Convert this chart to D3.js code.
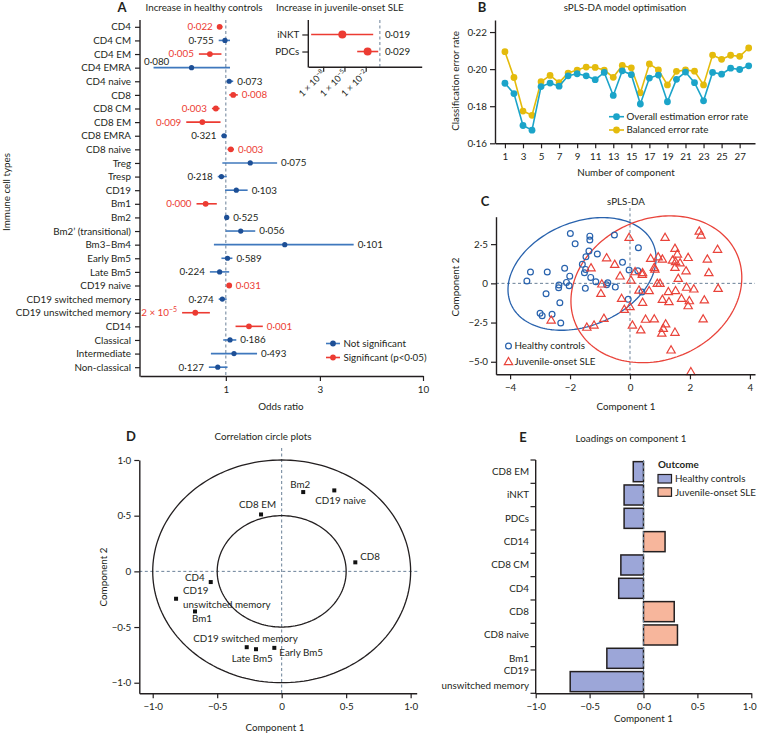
<!DOCTYPE html>
<html>
<head>
<meta charset="utf-8">
<script src="https://cdn.jsdelivr.net/npm/d3@7"></script>
<style>
  body { margin: 0; background: #fff; }
  svg text { fill: #231f20; }
</style>
</head>
<body>
<div id="chart"></div>
<script>
const width = 757;
const height = 734;

// ---------- Panel A: odds ratios per immune cell type
const cellTypes = ['CD4', 'CD4 CM', 'CD4 EM', 'CD4 EMRA', 'CD4 naive', 'CD8', 'CD8 CM', 'CD8 EM',
  'CD8 EMRA', 'CD8 naive', 'Treg', 'Tresp', 'CD19', 'Bm1', 'Bm2', 'Bm2\u2019 (transitional)',
  'Bm3\u2013Bm4', 'Early Bm5', 'Late Bm5', 'CD19 naive', 'CD19 switched memory',
  'CD19 unswitched memory', 'CD14', 'Classical', 'Intermediate', 'Non-classical'];
const oddsRatio = [0.93, 0.99, 0.83, 0.67, 1.04, 1.09, 0.89, 0.76, 0.98, 1.06, 1.33, 0.95, 1.13,
  0.79, 1.01, 1.19, 1.99, 1.02, 0.93, 1.04, 0.96, 0.70, 1.31, 1.05, 1.10, 0.91];
const ciLow = [0.91, 0.92, 0.73, 0.43, 1.01, 1.04, 0.85, 0.63, 0.95, 1.02, 0.96, 0.91, 0.99,
  0.71, 0.99, 1.00, 0.87, 0.95, 0.83, 1.01, 0.92, 0.60, 1.12, 0.97, 0.84, 0.82];
const ciHigh = [0.96, 1.05, 0.95, 1.05, 1.09, 1.15, 0.93, 0.94, 1.01, 1.10, 1.82, 1.01, 1.29,
  0.90, 1.04, 1.41, 4.45, 1.08, 1.04, 1.07, 1.01, 0.83, 1.54, 1.13, 1.44, 1.02];
const pValues = [0.022, 0.755, 0.005, 0.080, 0.073, 0.008, 0.003, 0.009, 0.321, 0.003, 0.075,
  0.218, 0.103, 0.0004, 0.525, 0.056, 0.101, 0.589, 0.224, 0.031, 0.274, 0.00002, 0.001, 0.186,
  0.493, 0.127];
const orTicks = [1, 3, 10];

// inset: increase in juvenile-onset SLE
const insetTypes = ['iNKT', 'PDCs'];
const insetOR = [5e-6, 0.0186];
const insetLow = [2e-10, 6.3e-4];
const insetHigh = [0.114, 0.58];
const insetP = [0.019, 0.029];
const insetTicks = [1e-8, 1e-5, 1e-2];

// ---------- Panel B: sPLS-DA model optimisation
const components = [1, 2, 3, 4, 5, 6, 7, 8, 9, 10, 11, 12, 13, 14, 15, 16, 17, 18, 19, 20, 21, 22,
  23, 24, 25, 26, 27, 28];
const overallError = [0.1924, 0.1868, 0.1696, 0.1671, 0.1906, 0.1925, 0.1908, 0.1964, 0.1975,
  0.1964, 0.1943, 0.1982, 0.1858, 0.1991, 0.1970, 0.1812, 0.1952, 0.1968, 0.1824, 0.1945, 0.1984,
  0.1927, 0.1829, 0.1982, 0.1973, 0.2005, 0.1998, 0.2018];
const balancedError = [0.2094, 0.1955, 0.1774, 0.1751, 0.1932, 0.1966, 0.1927, 0.1979, 0.1995,
  0.2011, 0.2009, 0.1995, 0.1956, 0.2020, 0.2007, 0.1872, 0.2028, 0.1996, 0.1915, 0.1988, 0.1996,
  0.1989, 0.1915, 0.2076, 0.2053, 0.2075, 0.2069, 0.2114];
const componentTicks = [1, 3, 5, 7, 9, 11, 13, 15, 17, 19, 21, 23, 25, 27];
const errorTicks = [0.16, 0.18, 0.20, 0.22];

// ---------- Panel C: sPLS-DA sample plot
const hcComp1 = [-1.99, -1.83, -1.34, -1.34, -0.52, -1.37, -1.09, -1.59, -1.47, -1.48, -1.52, -1.31,
  -1.14, -0.74, -0.78, -0.49, -1.49, -0.25, -3.32, -3.44, -2.76, -2.18, -2.01, -2.12, -2.03, -2.37,
  -2.38, -2.80, -2.34, -3.00, -2.93, -2.60, -2.31, 0.28, -0.03, 0.26, -0.06, 0.40];
const hcComp2 = [3.18, 2.52, 3.01, 2.76, 3.08, 2.06, 1.87, 1.21, 1.69, 0.89, 0.68, 0.38, 0.10, 0.04,
  -0.09, -0.24, -0.32, 1.34, 0.72, 0.15, 0.72, 0.96, 0.46, 0.06, -0.15, -0.11, -0.28, -0.66, -1.24,
  -1.91, -2.06, -1.97, -2.53, 2.27, 0.85, 0.80, -1.02, -0.55];
const sleComp1 = [-0.03, 1.17, 2.31, 2.37, 2.92, 1.50, 1.58, 0.69, 0.94, 1.08, 1.42, 1.52, 1.67, 1.94,
  2.58, 1.50, 0.81, 0.83, 1.87, 2.63, 0.17, 0.42, 0.41, 1.61, 0.03, 0.91, 1.00, 1.89, 2.13, 2.94,
  0.30, 0.64, 1.28, 1.52, -0.28, 1.08, 1.30, 1.72, 1.98, 1.94, 2.48, 0.42, 0.00, 0.52, 0.81, 2.44,
  0.08, 0.36, 1.19, 1.11, 1.06, 1.50, 1.37, 2.03, -1.30, -0.78, -0.51, -0.33, -0.94, -0.97, -0.87,
  -1.20, -1.44, -2.63, -0.19];
const sleComp2 = [2.93, 2.93, 3.33, 3.08, 2.17, 2.23, 1.87, 1.59, 1.69, 1.55, 1.48, 1.38, 1.31, 1.65,
  1.55, 1.02, 1.02, 0.91, 0.80, 0.68, 0.74, 0.68, 0.57, 0.32, 0.21, 0.00, 0.00, -0.25, -0.36, -0.32,
  -0.43, -0.47, -0.53, -0.47, -0.96, -1.02, -1.17, -0.96, -1.11, -1.43, -1.06, -1.21, -1.49, -2.29,
  -2.27, -2.27, -2.66, -2.97, -2.59, -2.87, -3.18, -3.12, -4.25, -5.63, 0.99, 1.63, 1.21, 0.47,
  -0.04, -0.64, -2.23, -2.66, -2.80, -2.34, -1.66];
// confidence ellipses: centre, horizontal semi-extent and the conjugate vertical parts
const hcEllipse = [-1.6, 0.6, 2.47, 1.0, 3.45];
const sleEllipse = [0.88, -0.38, 2.85, 0.75, 4.62];
const comp1Ticks = [-4, -2, 0, 2, 4];
const comp2Ticks = [2.5, 0, -2.5, -5];

// ---------- Panel D: correlation circle
const corrVars = ['Bm2', 'CD19 naive', 'CD8 EM', 'CD8', 'CD4', 'CD19 unswitched memory', 'Bm1',
  'CD19 switched memory', 'Late Bm5', 'Early Bm5'];
const corrComp1 = [0.167, 0.408, -0.160, 0.571, -0.550, -0.819, -0.672, -0.199, -0.271, -0.057];
const corrComp2 = [0.712, 0.727, 0.511, 0.081, -0.096, -0.246, -0.360, -0.699, -0.681, -0.687];
const corrRadii = [1, 0.5];
const corrTicks = [-1, -0.5, 0, 0.5, 1];

// ---------- Panel E: loadings on component 1
const loadingVars = ['CD8 EM', 'iNKT', 'PDCs', 'CD14', 'CD8 CM', 'CD4', 'CD8', 'CD8 naive', 'Bm1',
  'CD19 unswitched memory'];
const loadings = [-0.095, -0.18, -0.18, 0.20, -0.21, -0.23, 0.285, 0.315, -0.34, -0.68];

// ---------- shared styles
const ink = '#231f20';
const red = '#ec3b32';
const blueDot = '#1d4f96';
const blueLine = '#3f78bd';
const dashColor = '#6a8098';
const font = 'Lato, "Open Sans", sans-serif';
const dot = s => String(s).replace(/\./g, '\u00b7').replace(/-/g, '\u2212');

const svg = d3.select('#chart').append('svg')
  .attr('width', width)
  .attr('height', height)
  .style('font-family', font)
  .style('font-size', '9.8px');

function styleAxis(g) {
  g.attr('font-family', null).attr('font-size', null);
  g.select('.domain').attr('stroke', ink).attr('stroke-width', 1.4);
  g.selectAll('.tick line').attr('stroke', ink).attr('stroke-width', 1.2);
  g.selectAll('.tick text').attr('fill', ink);
}

function label(x, y, str, anchor, extra) {
  const t = svg.append('text').attr('x', x).attr('y', y)
    .attr('text-anchor', anchor || 'middle').text(str);
  if (extra === 'letter') t.style('font-size', '13px').style('font-weight', 'bold');
  return t;
}

function vLabel(x, y, str) {
  svg.append('text').attr('transform', `translate(${x},${y}) rotate(-90)`)
    .attr('text-anchor', 'middle').text(str);
}

function vline(g, x, y1, y2) {
  g.append('line').attr('x1', x).attr('x2', x).attr('y1', y1).attr('y2', y2)
    .attr('stroke', dashColor).attr('stroke-width', 1).attr('stroke-dasharray', '3,2.5');
}
function hline(g, y, x1, x2) {
  g.append('line').attr('x1', x1).attr('x2', x2).attr('y1', y).attr('y2', y)
    .attr('stroke', dashColor).attr('stroke-width', 1).attr('stroke-dasharray', '3,2.5');
}

function writeP(sel, p) {
  if (p < 0.0001) {
    const exp = Math.floor(Math.log10(p));
    const mant = Math.round(p / Math.pow(10, exp));
    sel.text(mant + ' \u00d7 10');
    sel.append('tspan').attr('dy', -4).style('font-size', '7px').text('\u2212' + Math.abs(exp));
  } else {
    sel.text(dot(p.toFixed(3)));
  }
}

// ======================= Panel A
const xA = d3.scaleLog().domain([0.367, 10]).range([140, 423]);
const yA = d3.scalePoint().domain(cellTypes).range([20, 374]).padding(0.5);
const gA = svg.append('g');
const rowsA = cellTypes.map((name, i) => ({
  name, or: oddsRatio[i], lo: ciLow[i], hi: ciHigh[i], p: pValues[i]
}));

vline(gA, xA(1), 20, 376);

gA.selectAll('.ci').data(rowsA).join('line')
  .attr('x1', d => xA(d.lo)).attr('x2', d => xA(d.hi))
  .attr('y1', d => yA(d.name)).attr('y2', d => yA(d.name))
  .attr('stroke', d => d.p < 0.05 ? red : blueLine)
  .attr('stroke-width', 1.6);

gA.selectAll('.pt').data(rowsA).join('circle')
  .attr('cx', d => xA(d.or)).attr('cy', d => yA(d.name))
  .attr('r', d => d.p < 0.05 ? 2.9 : 2.6)
  .attr('fill', d => d.p < 0.05 ? red : blueDot);

gA.selectAll('.plab').data(rowsA).join('text')
  .attr('y', d => yA(d.name) + 3.4)
  .style('fill', d => d.p < 0.05 ? red : ink)
  .each(function (d) {
    const t = d3.select(this);
    writeP(t, d.p);
    if (d.or < 1) {
      t.attr('x', xA(d.lo) - 5).attr('text-anchor', 'end');
      const w = this.getComputedTextLength();
      if (xA(d.lo) - 5 - w < 136) {
        // no room on the left: put it above the interval
        t.attr('x', 144).attr('text-anchor', 'start').attr('y', yA(d.name) - 2.5);
      }
    } else {
      t.attr('x', xA(d.hi) + 4).attr('text-anchor', 'start');
    }
  });

const axA = gA.append('g').attr('transform', 'translate(0,376)')
  .call(d3.axisBottom(xA).tickValues(orTicks).tickFormat(d => d).tickSize(5).tickSizeOuter(0));
styleAxis(axA);
axA.selectAll('.tick text').attr('dy', '0.9em');

const ayA = gA.append('g').attr('transform', 'translate(140,0)')
  .call(d3.axisLeft(yA).tickSize(5).tickPadding(4));
styleAxis(ayA);
ayA.select('.domain').remove();
gA.append('line').attr('x1', 140).attr('x2', 140).attr('y1', 20).attr('y2', 376.7)
  .attr('stroke', ink).attr('stroke-width', 1.4);

label(122, 12, 'A', 'middle', 'letter');
label(204, 11, 'Increase in healthy controls');
label(281, 410, 'Odds ratio');
vLabel(10, 192, 'Immune cell types');

// legend A
const legA = [['Not significant', blueDot, blueLine], ['Significant (p<0\u00b705)', red, red]];
legA.forEach((l, i) => {
  const y = 343.5 + i * 14;
  gA.append('line').attr('x1', 326).attr('x2', 340).attr('y1', y).attr('y2', y)
    .attr('stroke', l[2]).attr('stroke-width', 1.6);
  gA.append('circle').attr('cx', 333).attr('cy', y).attr('r', 2.9).attr('fill', l[1]);
  gA.append('text').attr('x', 343.5).attr('y', y + 3.4).text(l[0]);
});

// inset
const xI = d3.scaleLog().domain([Math.pow(10, -10.1), Math.pow(10, 5.9)]).range([308.3, 421.7]);
const yI = d3.scalePoint().domain(insetTypes).range([20, 66]).padding(0.85);
const gI = svg.append('g');
const rowsI = insetTypes.map((name, i) => ({
  name, or: insetOR[i], lo: insetLow[i], hi: insetHigh[i], p: insetP[i]
}));
vline(gI, xI(1), 20, 66.7);
gI.selectAll('.ci').data(rowsI).join('line')
  .attr('x1', d => xI(d.lo)).attr('x2', d => xI(d.hi))
  .attr('y1', d => yI(d.name)).attr('y2', d => yI(d.name))
  .attr('stroke', red).attr('stroke-width', 1.6);
gI.selectAll('.pt').data(rowsI).join('circle')
  .attr('cx', d => xI(d.or)).attr('cy', d => yI(d.name)).attr('r', 4).attr('fill', red);
gI.selectAll('.plab').data(rowsI).join('text')
  .attr('x', d => Math.max(xI(d.hi), xI(1)) + 5)
  .attr('y', d => yI(d.name) + 3.4)
  .text(d => dot(d.p.toFixed(3)));

const axI = gI.append('g').attr('transform', 'translate(0,66.7)')
  .call(d3.axisBottom(xI).tickValues(insetTicks).tickFormat('').tickSize(5).tickSizeOuter(0));
styleAxis(axI);
gI.selectAll('.itick').data(insetTicks).join('text')
  .attr('transform', d => `translate(${xI(d) + 2.5},${74}) rotate(-45)`)
  .attr('text-anchor', 'end')
  .style('font-size', '9px')
  .each(function (d) {
    const t = d3.select(this).text('1 \u00d7 10');
    t.append('tspan').attr('dy', -3.5).style('font-size', '6.3px')
      .text('\u2212' + Math.round(-Math.log10(d)));
  });
const ayI = gI.append('g').attr('transform', 'translate(308.3,0)')
  .call(d3.axisLeft(yI).tickSize(6).tickPadding(3));
styleAxis(ayI);
ayI.select('.domain').remove();
gI.append('line').attr('x1', 308.3).attr('x2', 308.3).attr('y1', 20).attr('y2', 67.4)
  .attr('stroke', ink).attr('stroke-width', 1.4);
label(276, 11, 'Increase in juvenile-onset SLE', 'start');

// ======================= Panel B
const xB = d3.scaleLinear().domain([-0.1, 28.7]).range([495, 755]);
const yB = d3.scaleLinear().domain([0.16, 0.2265]).range([143.3, 20]);
const gB = svg.append('g');
const teal = '#1ba4c9';
const gold = '#e4bb0c';
const seriesB = [[overallError, teal], [balancedError, gold]];
seriesB.slice().reverse().forEach(([vals, col]) => {
  gB.append('path')
    .datum(components.map((c, i) => [c, vals[i]]))
    .attr('fill', 'none').attr('stroke', col).attr('stroke-width', 1.6)
    .attr('d', d3.line().x(d => xB(d[0])).y(d => yB(d[1])));
  gB.selectAll(null).data(components.map((c, i) => [c, vals[i]])).join('circle')
    .attr('cx', d => xB(d[0])).attr('cy', d => yB(d[1])).attr('r', 3.4).attr('fill', col);
});
const axB = gB.append('g').attr('transform', 'translate(0,143.3)')
  .call(d3.axisBottom(xB).tickValues(componentTicks).tickSize(5).tickSizeOuter(0));
styleAxis(axB);
axB.selectAll('.tick text').attr('dy', '0.9em');
const ayB = gB.append('g').attr('transform', 'translate(495,0)')
  .call(d3.axisLeft(yB).tickValues(errorTicks).tickFormat(d => dot(d.toFixed(2))).tickSize(5).tickSizeOuter(0));
styleAxis(ayB);

const legB = [['Overall estimation error rate', teal], ['Balanced error rate', gold]];
legB.forEach((l, i) => {
  const y = 116.7 + i * 13.3;
  gB.append('line').attr('x1', 609).attr('x2', 624).attr('y1', y).attr('y2', y)
    .attr('stroke', l[1]).attr('stroke-width', 1.6);
  gB.append('circle').attr('cx', 616.5).attr('cy', y).attr('r', 3.4).attr('fill', l[1]);
  gB.append('text').attr('x', 626.5).attr('y', y + 3.4).text(l[0]);
});
label(482, 12, 'B', 'middle', 'letter');
label(625, 11, 'sPLS-DA model optimisation');
label(626, 176, 'Number of component');
vLabel(459, 81, 'Classification error rate');

// ======================= Panel C
const xC = d3.scaleLinear().domain([-4.47, 4.17]).range([496, 755]);
const yC = d3.scaleLinear().domain([-5.8, 4.25]).range([374.3, 216.7]);
const gC = svg.append('g');
const hcBlue = '#2862ad';
const sleRed = '#e9433a';

vline(gC, xC(0), 208, 374);
hline(gC, yC(0), 496, 755);

function ellipsePath(e) {
  const [cx, cy, a, b, c] = e;
  const pts = d3.range(0, 2 * Math.PI + 0.01, Math.PI / 90).map(t =>
    [xC(cx + a * Math.cos(t)), yC(cy + b * Math.cos(t) + c * Math.sin(t))]);
  return d3.line()(pts);
}
gC.append('path').attr('d', ellipsePath(hcEllipse))
  .attr('fill', 'none').attr('stroke', hcBlue).attr('stroke-width', 1.3);
gC.append('path').attr('d', ellipsePath(sleEllipse))
  .attr('fill', 'none').attr('stroke', sleRed).attr('stroke-width', 1.3);

gC.selectAll('.hc').data(hcComp1.map((x, i) => [x, hcComp2[i]])).join('circle')
  .attr('cx', d => xC(d[0])).attr('cy', d => yC(d[1])).attr('r', 2.9)
  .attr('fill', 'none').attr('stroke', hcBlue).attr('stroke-width', 1.2);
const tri = d3.symbol(d3.symbolTriangle).size(30);
gC.selectAll('.sle').data(sleComp1.map((x, i) => [x, sleComp2[i]])).join('path')
  .attr('d', tri)
  .attr('transform', d => `translate(${xC(d[0])},${yC(d[1]) + 0.6})`)
  .attr('fill', 'none').attr('stroke', sleRed).attr('stroke-width', 1.2);

const axC = gC.append('g').attr('transform', 'translate(0,374.3)')
  .call(d3.axisBottom(xC).tickValues(comp1Ticks).tickFormat(d => dot(d)).tickSize(5).tickSizeOuter(0));
styleAxis(axC);
axC.selectAll('.tick text').attr('dy', '0.9em');
const ayC = gC.append('g').attr('transform', 'translate(496,0)')
  .call(d3.axisLeft(yC).tickValues(comp2Ticks).tickFormat(d => d === 0 ? '0' : dot(d.toFixed(1))).tickSize(5).tickSizeOuter(0));
styleAxis(ayC);

gC.append('circle').attr('cx', 508.5).attr('cy', 346).attr('r', 2.9)
  .attr('fill', 'none').attr('stroke', hcBlue).attr('stroke-width', 1.2);
gC.append('text').attr('x', 514.5).attr('y', 349.4).text('Healthy controls');
gC.append('path').attr('d', tri).attr('transform', 'translate(508.5,362.3)')
  .attr('fill', 'none').attr('stroke', sleRed).attr('stroke-width', 1.2);
gC.append('text').attr('x', 514.5).attr('y', 365.1).text('Juvenile-onset SLE');

label(485, 206, 'C', 'middle', 'letter');
label(626, 205, 'sPLS-DA');
label(626, 409.5, 'Component 1');
vLabel(459, 287, 'Component 2');

// ======================= Panel D
const xD = d3.scaleLinear().domain([-1.104, 1.047]).range([139.3, 416.7]);
const yD = d3.scaleLinear().domain([-1.095, 1.0]).range([693.3, 460]);
const gD = svg.append('g');

vline(gD, xD(0), 448, 693.3);
hline(gD, yD(0), 139.3, 418);

corrRadii.forEach(r => {
  const pts = d3.range(0, 2 * Math.PI + 0.01, Math.PI / 90)
    .map(t => [xD(r * Math.cos(t)), yD(r * Math.sin(t))]);
  gD.append('path').attr('d', d3.line()(pts))
    .attr('fill', 'none').attr('stroke', ink).attr('stroke-width', 1.3);
});

const corrRows = corrVars.map((name, i) => ({ name, x: corrComp1[i], y: corrComp2[i] }));
gD.selectAll('.sq').data(corrRows).join('rect')
  .attr('x', d => xD(d.x) - 2).attr('y', d => yD(d.y) - 2)
  .attr('width', 4).attr('height', 4).attr('fill', '#111');

// label placement next to each square: [dx, dy, anchor]
const corrLabelPos = {
  'Bm2': [-13, -4, 'start'],
  'CD19 naive': [-19, 13.5, 'start'],
  'CD8 EM': [-3.5, -6, 'middle'],
  'CD8': [5, -2, 'start'],
  'CD4': [-6, -1, 'end'],
  'CD19 unswitched memory': [7, -4.5, 'start'],
  'Bm1': [-3, 11, 'start'],
  'CD19 switched memory': [-10.5, -7, 'middle'],
  'Late Bm5': [-15, 14.7, 'start'],
  'Early Bm5': [5, 8, 'start']
};
corrRows.forEach(d => {
  const [dx, dy, anchor] = corrLabelPos[d.name];
  const t = gD.append('text').attr('x', xD(d.x) + dx).attr('y', yD(d.y) + dy)
    .attr('text-anchor', anchor);
  if (d.name === 'CD19 unswitched memory') {
    t.append('tspan').text('CD19');
    t.append('tspan').attr('x', xD(d.x) + dx).attr('dy', 14).text('unswitched memory');
  } else {
    t.text(d.name);
  }
});

const fmtCorr = d => d === 0 ? '0' : dot(d.toFixed(1));
const axD = gD.append('g').attr('transform', 'translate(0,693.3)')
  .call(d3.axisBottom(xD).tickValues(corrTicks).tickFormat(fmtCorr).tickSize(5).tickSizeOuter(0));
styleAxis(axD);
axD.selectAll('.tick text').attr('dy', '0.9em');
const ayD = gD.append('g').attr('transform', 'translate(139.3,0)')
  .call(d3.axisLeft(yD).tickValues(corrTicks).tickFormat(fmtCorr).tickSize(5).tickSizeOuter(0));
styleAxis(ayD);

label(131, 441, 'D', 'middle', 'letter');
label(263, 440, 'Correlation circle plots');
label(275, 731, 'Component 1');
vLabel(107, 577, 'Component 2');

// ======================= Panel E
const xE = d3.scaleLinear().domain([-1, 1]).range([535.7, 751.3]);
const yE = d3.scaleBand().domain(loadingVars).range([460, 693.3])
  .paddingInner(0.14).paddingOuter(0.07);
const gE = svg.append('g');
const hcFill = '#9ca6d8';
const sleFill = '#f7b69c';

gE.selectAll('.bar').data(loadingVars.map((name, i) => ({ name, v: loadings[i] }))).join('rect')
  .attr('x', d => xE(Math.min(0, d.v)))
  .attr('width', d => Math.abs(xE(d.v) - xE(0)))
  .attr('y', d => yE(d.name))
  .attr('height', yE.bandwidth())
  .attr('fill', d => d.v < 0 ? hcFill : sleFill)
  .attr('stroke', ink).attr('stroke-width', 1.5);

vline(gE, xE(0), 460, 693.3);

const axE = gE.append('g').attr('transform', 'translate(0,693.3)')
  .call(d3.axisBottom(xE).tickValues(corrTicks).tickFormat(d => dot(d.toFixed(1))).tickSize(5).tickSizeOuter(0));
styleAxis(axE);
axE.selectAll('.tick text').attr('dy', '0.9em');
// keep the last label inside the page
axE.selectAll('.tick text').filter(d => d === 1).attr('text-anchor', 'end').attr('dx', '0.5em');

// y axis with ticks on band boundaries
gE.append('line').attr('x1', 535.7).attr('x2', 535.7).attr('y1', 460).attr('y2', 694)
  .attr('stroke', ink).attr('stroke-width', 1.4);
gE.selectAll('.btick').data(d3.range(loadingVars.length + 1)).join('line')
  .attr('x1', 530.5).attr('x2', 535.7)
  .attr('y1', i => 460 + i * yE.step()).attr('y2', i => 460 + i * yE.step())
  .attr('stroke', ink).attr('stroke-width', 1.2);
gE.selectAll('.ylab').data(loadingVars).join('text')
  .attr('text-anchor', 'end')
  .each(function (d) {
    const t = d3.select(this);
    const yc = yE(d) + yE.bandwidth() / 2;
    if (d.length > 15) {
      const cut = d.indexOf(' ');
      t.append('tspan').attr('x', 529).attr('y', yc - 8).text(d.slice(0, cut));
      t.append('tspan').attr('x', 529).attr('y', yc + 7.5).text(d.slice(cut + 1));
    } else {
      t.attr('x', 529).attr('y', yc + 3.4).text(d);
    }
  });

gE.append('text').attr('x', 658).attr('y', 467.5).style('font-weight', 'bold').text('Outcome');
[['Healthy controls', hcFill], ['Juvenile-onset SLE', sleFill]].forEach((l, i) => {
  const y = 474.5 + i * 13.3;
  gE.append('rect').attr('x', 658).attr('y', y).attr('width', 13.5).attr('height', 8.5)
    .attr('fill', l[1]).attr('stroke', ink).attr('stroke-width', 1.2);
  gE.append('text').attr('x', 675).attr('y', y + 7.8).text(l[0]);
});

label(523, 442, 'E', 'middle', 'letter');
label(631, 441.5, 'Loadings on component 1');
label(643.5, 722, 'Component 1');
</script>
</body>
</html>
